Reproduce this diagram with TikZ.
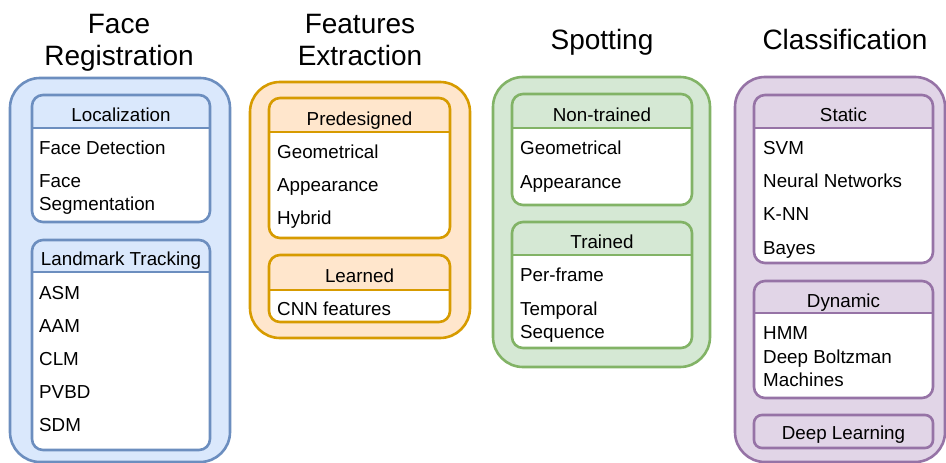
\documentclass[tikz,border=0pt]{standalone}
\usepackage{fontspec}
\setmainfont{Liberation Sans}
\definecolor{bF}{HTML}{DAE8FC}\definecolor{bS}{HTML}{6C8EBF}
\definecolor{oF}{HTML}{FFE6CC}\definecolor{oS}{HTML}{D79B00}
\definecolor{gF}{HTML}{D5E8D4}\definecolor{gS}{HTML}{82B366}
\definecolor{pF}{HTML}{E1D5E7}\definecolor{pS}{HTML}{9673A6}
\tikzset{
  outerbox/.style={rounded corners=30pt, line width=2.6pt},
  innerline/.style={rounded corners=11pt, line width=2.6pt},
  item/.style={anchor=base west, inner sep=0pt, font=\fontsize{18.8}{22}\selectfont},
  head/.style={anchor=base, inner sep=0pt, font=\fontsize{18.8}{22}\selectfont},
  title/.style={anchor=base, inner sep=0pt, font=\fontsize{28}{33}\selectfont},
}
% name, x1, y1, x2, y2, header y, colour prefix
\newcommand\mybox[7]{%
  \begin{scope}
    \clip[rounded corners=11pt] (#2,#3) rectangle (#4,#5);
    \fill[white] (#2,#3) rectangle (#4,#5);
    \fill[#7F] (#2,#3) rectangle (#4,#6);
  \end{scope}
  \draw[#7S, innerline] (#2,#3) rectangle (#4,#5);
  \draw[#7S, line width=2.6pt] (#2,#6) coordinate (#1-hl) -- (#4,#6) coordinate (#1-hr);
}
\begin{document}
\begin{tikzpicture}[x=1pt,y=-1pt]
\useasboundingbox (0,0) rectangle (946,463);

% titles
\node[title] (t1a) at (119,34) {Face};
\node[title] (t1b) at (119,65) {Registration};
\node[title] (t2a) at (360,34) {Features};
\node[title] (t2b) at (360,65) {Extraction};
\node[title] (t3) at (602,49) {Spotting};
\node[title] (t4) at (845,49) {Classification};

% outer boxes
\draw[bS, fill=bF, outerbox] (10,78) rectangle (230,462);
\draw[oS, fill=oF, outerbox] (250,82) rectangle (470,338);
\draw[gS, fill=gF, outerbox] (493,77) rectangle (710,367);
\draw[pS, fill=pF, outerbox] (735,77) rectangle (945,462);

% column 1
\mybox{loc}{32}{95}{210}{222}{128}{b}
\node[head] (loch) at (121,121) {Localization};
\node[item] (fd) at (39,154) {Face Detection};
\node[item] (fs1) at (39,187) {Face};
\node[item] (fs2) at (39,210) {Segmentation};
\mybox{lmt}{32}{240}{210}{450}{272}{b}
\node[head] (lmth) at (121,265) {Landmark Tracking};
\node[item] (asm) at (39,299) {ASM};
\node[item] (aam) at (39,332) {AAM};
\node[item] (clm) at (39,365) {CLM};
\node[item] (pvbd) at (39,398) {PVBD};
\node[item] (sdm) at (39,431) {SDM};

% column 2
\mybox{pre}{269}{98}{450}{238}{132}{o}
\node[head] (preh) at (359.5,125) {Predesigned};
\node[item] (geo1) at (277,158) {Geometrical};
\node[item] (app1) at (277,191) {Appearance};
\node[item] (hyb) at (277,224) {Hybrid};
\mybox{lea}{269}{255}{450}{322}{290}{o}
\node[head] (leah) at (359.5,282) {Learned};
\node[item] (cnn) at (277,315) {CNN features};

% column 3
\mybox{non}{512}{94}{692}{205}{128}{g}
\node[head] (nonh) at (602,121) {Non-trained};
\node[item] (geo2) at (520,154) {Geometrical};
\node[item] (app2) at (520,188) {Appearance};
\mybox{tra}{512}{222}{692}{348}{255}{g}
\node[head] (trah) at (602,248) {Trained};
\node[item] (pf) at (520,281) {Per-frame};
\node[item] (ts1) at (520,315) {Temporal};
\node[item] (ts2) at (520,338) {Sequence};

% column 4
\mybox{sta}{754}{95}{933}{263}{128}{p}
\node[head] (stah) at (843.5,121) {Static};
\node[item] (svm) at (763,154) {SVM};
\node[item] (nn) at (763,187) {Neural Networks};
\node[item] (knn) at (763,220) {K-NN};
\node[item] (bay) at (763,254) {Bayes};
\mybox{dyn}{754}{281}{933}{398}{313}{p}
\node[head] (dynh) at (843.5,307) {Dynamic};
\node[item] (hmm) at (763,339) {HMM};
\node[item] (dbm1) at (763,363) {Deep Boltzman};
\node[item] (dbm2) at (763,386) {Machines};
\draw[pS, fill=pF, innerline, rounded corners=8pt] (754,415) rectangle (933,448);
\node[head] (dl) at (843.5,439) {Deep Learning};
\end{tikzpicture}
\end{document}
